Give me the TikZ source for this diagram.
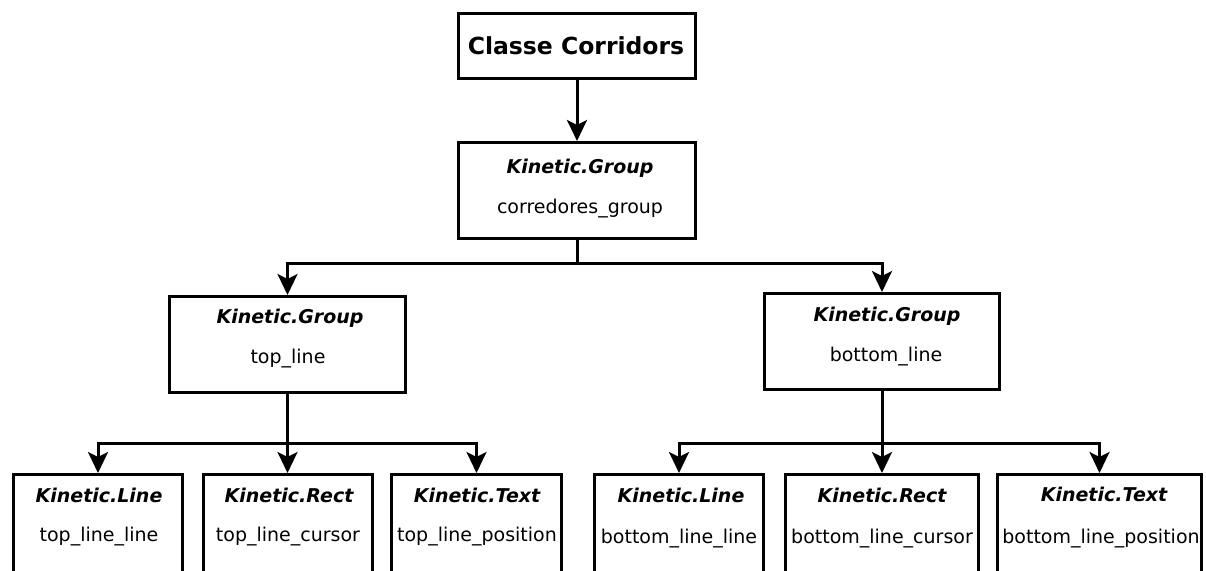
\documentclass[tikz,border=0pt]{standalone}
\usepackage{fontspec}
\setmainfont{DejaVu Sans}
\usetikzlibrary{arrows.meta}
\begin{document}
\begin{tikzpicture}[x=1pt,y=-1pt,
  box/.style={draw=black, line width=3pt, fill=white, inner sep=0pt, rectangle},
  headline/.style={font=\fontsize{23.5}{26}\selectfont\bfseries, anchor=base, inner sep=0pt},
  kind/.style={font=\fontsize{19}{21}\selectfont\bfseries\itshape, anchor=base, inner sep=0pt},
  inst/.style={font=\fontsize{19}{21}\selectfont, anchor=base, inner sep=0pt},
  link/.style={line width=3pt},
  arr/.style={line width=3pt, -{Stealth[length=21pt,width=20pt,inset=5pt]}}]
\useasboundingbox (0,0) rectangle (1206,570);
\clip (0,0) rectangle (1206,570);

% class box and the root group
\node[box, minimum width=237pt, minimum height=65pt] (top) at (577,46) {};
\node[headline] (top-t) at (576,54) {Classe Corridors};

\node[box, minimum width=237pt, minimum height=96pt] (grp) at (577,190.5) {};
\node[kind] (grp-k) at (580,173) {Kinetic.Group};
\node[inst] (grp-n) at (580,213) {corredores\_group};

% the two line groups
\node[box, minimum width=236pt, minimum height=96pt] (tl) at (287.5,344.5) {};
\node[kind] (tl-k) at (290,323) {Kinetic.Group};
\node[inst] (tl-n) at (288,363) {top\_line};

\node[box, minimum width=235pt, minimum height=96pt] (bl) at (882,341.5) {};
\node[kind] (bl-k) at (887,321) {Kinetic.Group};
\node[inst] (bl-n) at (886,361) {bottom\_line};

% leaves of top_line
\node[box, minimum width=169pt, minimum height=134pt] (l1) at (98,541.5) {};
\node[kind] (l1-k) at (99,502) {Kinetic.Line};
\node[inst] (l1-n) at (99,541) {top\_line\_line};

\node[box, minimum width=169pt, minimum height=134pt] (l2) at (287.5,541.5) {};
\node[kind] (l2-k) at (289,502) {Kinetic.Rect};
\node[inst] (l2-n) at (288,541) {top\_line\_cursor};

\node[box, minimum width=170pt, minimum height=134pt] (l3) at (476.5,541.5) {};
\node[kind] (l3-k) at (477,502) {Kinetic.Text};
\node[inst] (l3-n) at (477,541) {top\_line\_position};

% leaves of bottom_line
\node[box, minimum width=169pt, minimum height=134pt] (r1) at (679,541.5) {};
\node[kind] (r1-k) at (681,502) {Kinetic.Line};
\node[inst] (r1-n) at (679,543) {bottom\_line\_line};

\node[box, minimum width=193pt, minimum height=134pt] (r2) at (882,541.5) {};
\node[kind] (r2-k) at (882,502) {Kinetic.Rect};
\node[inst] (r2-n) at (882,543) {bottom\_line\_cursor};

\node[box, minimum width=204pt, minimum height=134pt] (r3) at (1099.5,541.5) {};
\node[kind] (r3-k) at (1104,501) {Kinetic.Text};
\node[inst] (r3-n) at (1101,543) {bottom\_line\_position};

% connectors
\draw[arr] (top.south) -- (grp.north);

\coordinate (j0) at (577,263);
\draw[link] (grp.south) -- (j0);
\draw[arr] (j0) -| (tl.north);
\draw[arr] (j0) -| (bl.north);

\coordinate (j1) at (287.5,443);
\draw[link] (tl.south) -- (j1);
\draw[arr] (j1) -| (l1.north);
\draw[arr] (j1) -- (l2.north);
\draw[arr] (j1) -| (l3.north);

\coordinate (j2) at (882,443);
\draw[link] (bl.south) -- (j2);
\draw[arr] (j2) -| (r1.north);
\draw[arr] (j2) -- (r2.north);
\draw[arr] (j2) -| (r3.north);
\end{tikzpicture}
\end{document}
